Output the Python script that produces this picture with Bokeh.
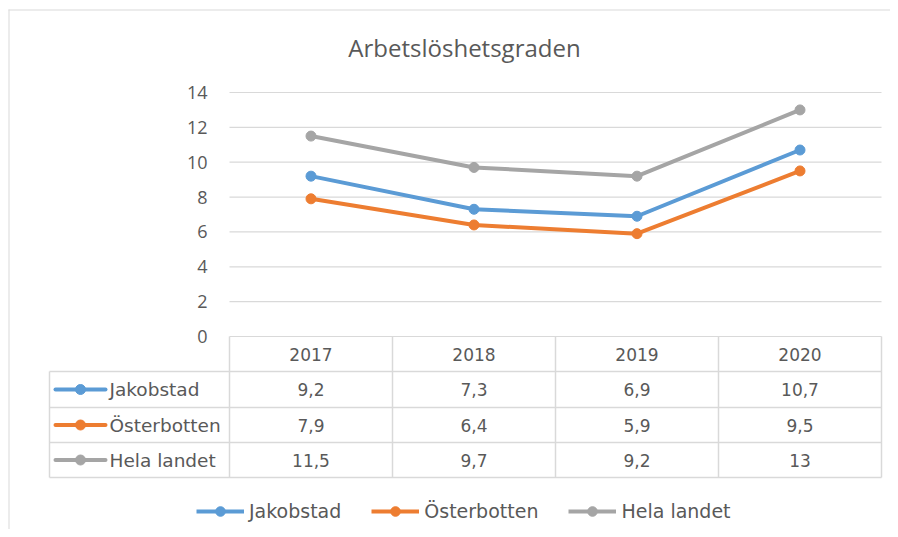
from bokeh.plotting import figure
from bokeh.models import Range1d, Legend, LegendItem
from bokeh.core.properties import value
from bokeh.embed import file_html
from bokeh.resources import INLINE

# ---------------- data ----------------
title_text = "Arbetslöshetsgraden"
years = ["2017", "2018", "2019", "2020"]
series_names = ["Jakobstad", "Österbotten", "Hela landet"]
jakobstad = [9.2, 7.3, 6.9, 10.7]
osterbotten = [7.9, 6.4, 5.9, 9.5]
hela_landet = [11.5, 9.7, 9.2, 13]
y_ticks = [0, 2, 4, 6, 8, 10, 12, 14]
colors = ["#5B9BD5", "#ED7D31", "#A5A5A5"]

series = [jakobstad, osterbotten, hela_landet]

# ---------------- layout helpers (screen pixels -> data units) ----------------
W, H = 890, 529
COLW = 163.0
K = 244.0 / 14.0
FONT = "Open Sans"
TFONT = "DejaVu Sans"
TXT = "#595959"
GRID = "#D9D9D9"


def fx(px):
    return (px - 229.0) / COLW


def fy(py):
    return (336.0 - py) / K


def fmt(v):
    if float(v).is_integer():
        return str(int(v))
    return str(v).replace(".", ",")


p = figure(width=W, height=H, x_range=Range1d(fx(0), fx(W)),
           y_range=Range1d(fy(H), fy(0)), output_backend="svg",
           toolbar_location=None, min_border=0, x_axis_type=None,
           y_axis_type=None)
p.outline_line_color = None
p.background_fill_color = "white"
p.border_fill_color = "white"

# chart border (top and left)
p.segment(x0=[fx(8), fx(8.5)], y0=[fy(9.5), fy(9)], x1=[fx(W), fx(8.5)],
          y1=[fy(9.5), fy(H)], line_color=GRID, line_width=1)

# title
p.text(x=[fx(464)], y=[fy(47)], text=[title_text], text_align="center",
       text_baseline="middle", text_font=value(FONT), text_font_size="24px",
       text_color=TXT)

ncat = len(years)
# horizontal gridlines
p.segment(x0=[0] * len(y_ticks), y0=y_ticks, x1=[ncat] * len(y_ticks), y1=y_ticks,
          line_color=GRID, line_width=1.2)
# y tick labels
p.text(x=[fx(207)] * len(y_ticks), y=y_ticks, text=[str(t) for t in y_ticks],
       text_align="right", text_baseline="middle", text_font=value(FONT),
       text_font_size="18px", text_color=TXT)

# ---------------- data table ----------------
row_edges_px = [336, 371, 407, 442, 477]
row_edges = [fy(v) for v in row_edges_px]
left_x = fx(49)
# vertical lines for category columns
p.segment(x0=list(range(ncat + 1)), y0=[row_edges[0]] * (ncat + 1),
          x1=list(range(ncat + 1)), y1=[row_edges[-1]] * (ncat + 1),
          line_color=GRID, line_width=1.5)
# left border of label column
p.segment(x0=[left_x], y0=[row_edges[1]], x1=[left_x], y1=[row_edges[-1]],
          line_color=GRID, line_width=1.5)
# horizontal row lines
p.segment(x0=[left_x] * 4, y0=row_edges[1:], x1=[ncat] * 4, y1=row_edges[1:],
          line_color=GRID, line_width=1.5)

# header years
hdr_y = (row_edges[0] + row_edges[1]) / 2
p.text(x=[i + 0.5 for i in range(ncat)], y=[hdr_y] * ncat, text=years,
       text_align="center", text_baseline="middle", text_font=value(TFONT),
       text_font_size="17px", text_color=TXT)

for r, (name, vals, col) in enumerate(zip(series_names, series, colors)):
    cy = (row_edges[r + 1] + row_edges[r + 2]) / 2
    p.text(x=[i + 0.5 for i in range(ncat)], y=[cy] * ncat,
           text=[fmt(v) for v in vals], text_align="center",
           text_baseline="middle", text_font=value(TFONT),
           text_font_size="17px", text_color=TXT)
    # row key
    p.segment(x0=[fx(55)], y0=[cy], x1=[fx(105)], y1=[cy], line_color=col,
              line_width=4, line_cap="round")
    p.scatter(x=[fx(80)], y=[cy], size=10, color=col)
    p.text(x=[fx(109)], y=[cy], text=[name], text_align="left",
           text_baseline="middle", text_font=value(TFONT),
           text_font_size="18.5px", text_color=TXT)

# ---------------- series lines ----------------
items = []
xs = [i + 0.5 for i in range(ncat)]
for name, vals, col in zip(series_names, series, colors):
    lr = p.line(x=xs, y=vals, line_color=col, line_width=4, line_join="round")
    sr = p.scatter(x=xs, y=vals, size=10, color=col)
    items.append(LegendItem(label=name, renderers=[lr, sr]))

legend = Legend(items=items, orientation="horizontal", location=(196, 6),
                glyph_width=48, glyph_height=24, label_standoff=5, spacing=30,
                padding=0, margin=0, border_line_color=None,
                background_fill_alpha=0, label_text_font=TFONT,
                label_text_font_size="19px", label_text_color=TXT,
                label_text_baseline="middle")
p.add_layout(legend)

open("out.html", "w").write(file_html(p, INLINE))
